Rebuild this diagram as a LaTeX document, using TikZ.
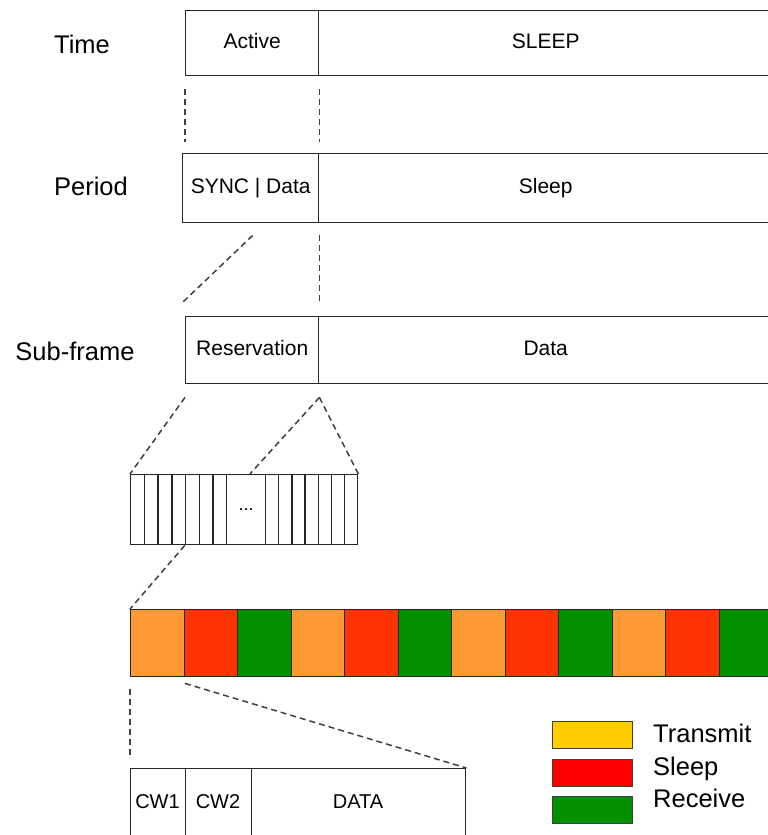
\documentclass[tikz,border=0pt]{standalone}
\usepackage{fontspec}
\setmainfont{Liberation Sans}
\definecolor{corange}{HTML}{FF9933}
\definecolor{cred}{HTML}{FF3300}
\definecolor{cgreen}{HTML}{009000}
\definecolor{lyellow}{HTML}{FFCC00}
\definecolor{lred}{HTML}{FF0000}
\definecolor{lgreen}{HTML}{009000}
\begin{document}
\begin{tikzpicture}[x=1pt,y=-1pt,
  cell/.style={draw=black!85, line width=1.4pt, inner sep=0pt, anchor=north west,
    font=\fontsize{21}{21}\selectfont, text height=15pt, text depth=4pt},
  smallcell/.style={cell, font=\fontsize{20}{20}\selectfont},
  slot/.style={draw=black!85, line width=1.4pt, inner sep=0pt, anchor=north west,
    minimum height=70, font=\fontsize{18}{18}\selectfont},
  colcell/.style={draw=black!85, line width=1.4pt, inner sep=0pt, anchor=north west,
    minimum width=53.5, minimum height=67},
  lbl/.style={font=\fontsize{25.5}{25.5}\selectfont, inner sep=0pt, text height=18pt, text depth=5pt},
  legbox/.style={draw=black!75, line width=1.3pt, inner sep=0pt, anchor=north west,
    minimum width=80, minimum height=27},
  legtxt/.style={font=\fontsize{25.5}{25.5}\selectfont, inner sep=0pt, anchor=west,
    text height=18pt, text depth=5pt},
  dsh/.style={draw=black!75, line width=1.5pt, dash pattern=on 6pt off 4pt}]
\clip (0,0) rectangle (768,835);

% Row labels
\node[lbl] (ltime) at (82,47) {Time};
\node[lbl] (lperiod) at (91,189) {Period};
\node[lbl] (lsub) at (75,354) {Sub-frame};

% Row 1
\node[cell, minimum width=133, minimum height=65] (ta) at (185,10) {Active};
\node[cell, minimum width=454, minimum height=65] (ts) at (318,10) {SLEEP};
% Row 2
\node[cell, minimum width=136, minimum height=69] (pa) at (182,153) {SYNC | Data};
\node[cell, minimum width=454, minimum height=69] (ps) at (318,153) {Sleep};
% Row 3
\node[cell, minimum width=133, minimum height=67] (sa) at (185,316) {Reservation};
\node[cell, minimum width=454, minimum height=67] (sd) at (318,316) {Data};

% Slot box
\foreach \i in {0,...,6} {
  \node[slot, minimum width=13.7] (sl\i) at ({130+13.7*\i},474) {};
}
\node[slot, minimum width=39] (sdots) at (225.9,474) {...};
\foreach \i in {0,...,6} {
  \node[slot, minimum width=13.15] (sr\i) at ({264.9+13.15*\i},474) {};
}

% Colour bar
\foreach \i/\c in {0/corange,1/cred,2/cgreen,3/corange,4/cred,5/cgreen,6/corange,7/cred,8/cgreen,9/corange,10/cred,11/cgreen,12/corange} {
  \node[colcell, fill=\c] (c\i) at ({130+53.5*\i},609) {};
}

% Bottom frame
\node[smallcell, minimum width=55, minimum height=80] (cw1) at (130,768) {};
\node[smallcell, minimum width=66, minimum height=80] (cw2) at (185,768) {};
\node[smallcell, minimum width=214, minimum height=80] (dat) at (251,768) {};
\node[font=\fontsize{20}{20}\selectfont, inner sep=0pt] (tcw1) at (157.5,802) {CW1};
\node[font=\fontsize{20}{20}\selectfont, inner sep=0pt] (tcw2) at (218,802) {CW2};
\node[font=\fontsize{20}{20}\selectfont, inner sep=0pt] (tdat) at (358,802) {DATA};

% Legend
\node[legbox, fill=lyellow] (lgt) at (552,721) {};
\node[legbox, fill=lred] (lgs) at (552,759) {};
\node[legbox, fill=lgreen] (lgr) at (552,796) {};
\node[legtxt] (tt) at (653,736) {Transmit};
\node[legtxt] (ttsl) at (653,769) {Sleep};
\node[legtxt] (ttr) at (653,801) {Receive};

% Dashed connectors (yshift is in canvas units: negative = downwards)
\draw[dsh] ([yshift=-13]ta.south west) -- ([xshift=3,yshift=11]pa.north west);
\draw[dsh] ([yshift=-13]ta.south east) -- ([yshift=11]pa.north east);
\draw[dsh] ([xshift=2,yshift=-12]pa.south) -- ([xshift=-2,yshift=14]sa.north west);
\draw[dsh] ([yshift=-12]pa.south east) -- ([yshift=14]sa.north east);
\draw[dsh] ([yshift=-13]sa.south west) -- (sl0.north west);
\draw[dsh] ([yshift=-13]sa.south east) -- ([xshift=24]sdots.north west);
\draw[dsh] ([yshift=-13]sa.south east) -- (sr6.north east);
\draw[dsh] (sl4.south west) -- (c0.north west);
\draw[dsh] ([yshift=-12]c0.south west) -- ([yshift=11]cw1.north west);
\draw[dsh] ([yshift=-6]c0.south east) -- (dat.north east);
\end{tikzpicture}
\end{document}
